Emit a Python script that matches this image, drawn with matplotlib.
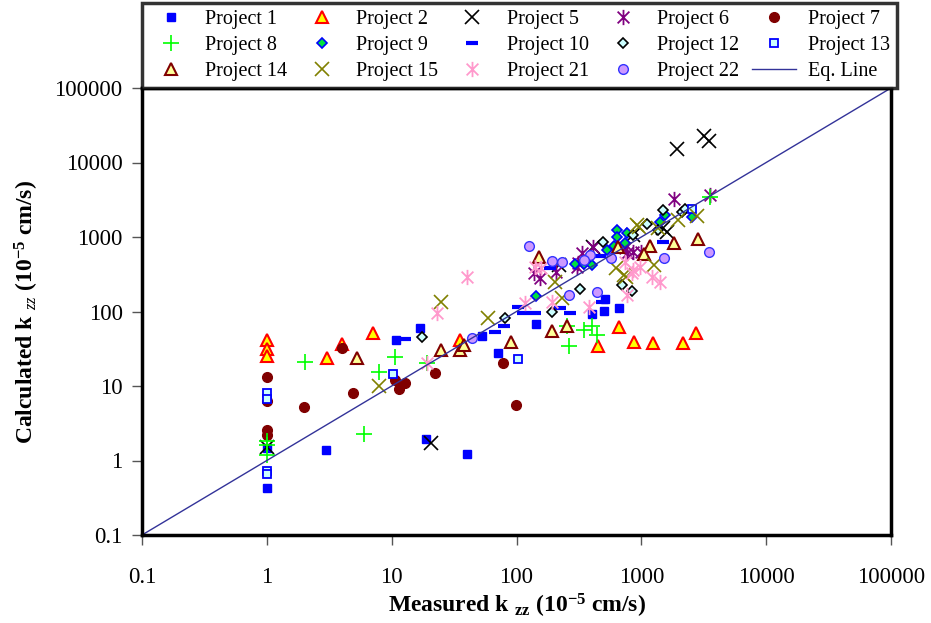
import matplotlib
matplotlib.use("Agg")
import matplotlib.pyplot as plt
from matplotlib.path import Path

plt.rcParams['font.family'] = ['Liberation Serif', 'DejaVu Serif']
plt.rcParams['mathtext.fontset'] = 'custom'
plt.rcParams['mathtext.rm'] = 'Liberation Serif'
plt.rcParams['mathtext.it'] = 'Liberation Serif:italic'
plt.rcParams['mathtext.bf'] = 'Liberation Serif:bold'

# Measured / calculated vertical permeability, units of 1e-5 cm/s
p1_x = [1, 1, 3.0, 16.9, 10.8, 52.7, 142, 71.6, 18.9, 40.5, 403, 500, 515, 661]
p1_y = [0.43, 1.47, 1.4, 60, 41, 47, 67, 28, 1.95, 1.21, 92, 102, 146, 112]

p2_x = [1, 1, 1, 3.05, 4.0, 7.1, 35.3, 661, 453, 875, 1250, 2150, 2750]
p2_y = [41, 31, 25.3, 24, 37, 52, 41, 62.5, 34, 39, 37.4, 37.4, 52]

p5_x = [1, 20.6, 1940, 3190, 3510, 1500, 1600, 855, 221, 413]
p5_y = [1.53, 1.73, 15000, 22700, 19600, 1310, 1180, 1060, 421, 741]

p6_x = [1830, 3560, 855, 990, 741, 137, 155, 334, 409, 304, 765, 313, 208]
p6_y = [3200, 3660, 635, 635, 705, 326, 279, 604, 728, 399, 604, 444, 342]

p7_x = [1, 1, 1, 1, 2.0, 3.98, 4.93, 10.6, 11.5, 12.8, 22.3, 78.5, 99.4]
p7_y = [13.3, 6.2, 2.56, 2.2, 5.2, 32.7, 8.0, 12.1, 9.0, 10.9, 14.8, 20.6, 5.56]

p8_x = [1, 1, 1, 2.02, 6.0, 7.96, 10.6, 19.1, 261, 348, 401, 442, 253, 3560]
p8_y = [1.8, 1.6, 1.2, 21.2, 2.27, 15.6, 24.7, 20.2, 34.4, 56.5, 63.8, 48.4, 63.8, 3480]

p9_x = [144, 295, 348, 401, 528, 637, 637, 765, 741, 1550, 1420, 2540, 600]
p9_y = [163, 434, 434, 421, 670, 1240, 1010, 1120, 822, 1970, 1610, 1870, 760]

p10_x = [12.8, 67.5, 79.6, 103.5, 113, 141, 223, 269, 482, 186, 468, 1500]
p10_y = [42.8, 53.5, 63.8, 114, 96, 96, 110, 96, 135, 380, 561, 865]

p12_x = [17.6, 81, 194, 324, 702, 849, 497, 864, 1120, 1500, 2110, 2220, 1350]
p12_y = [45, 82.6, 99.4, 199, 227, 190, 865, 1060, 1480, 2300, 2140, 2380, 1240]

p13_x = [1, 1, 1, 1, 10.3, 102, 2550]
p13_y = [8.1, 6.7, 0.73, 0.66, 14.4, 22.8, 2380]

p14_x = [5.25, 24.9, 35, 38, 90.6, 194, 256, 152, 649, 1180, 1050, 1830, 2820]
p14_y = [24, 30, 30, 35, 39.4, 55, 64, 545, 728, 757, 587, 822, 940]

p15_x = [7.96, 24.9, 59.6, 204, 231, 628, 755, 920, 728, 966, 1270, 1370, 1950, 2790]
p15_y = [10.1, 135, 82.6, 251, 150, 380, 293, 1450, 309, 1370, 421, 1310, 1690, 1910]

p21_x = [40, 23, 19.1, 117, 192, 384, 157, 765, 864, 977, 1210, 1400, 741, 839, 140]
p21_y = [293, 95, 20.2, 129, 135, 116, 380, 166, 361, 399, 293, 251, 467, 326, 399]

p22_x = [43.9, 125, 192, 231, 265, 440, 389, 573, 1530, 3490, 348]
p22_y = [44.5, 757, 481, 457, 166, 184, 573, 518, 518, 635, 497]

eq_line = [0.1, 100000]

tick_vals = [0.1, 1, 10, 100, 1000, 10000, 100000]
tick_labels = ['0.1', '1', '10', '100', '1000', '10000', '100000']

# six-armed star: an X with a vertical bar
star6 = Path([(-1, -1), (1, 1), (-1, 1), (1, -1), (0, -1.3), (0, 1.3)],
             [Path.MOVETO, Path.LINETO, Path.MOVETO, Path.LINETO, Path.MOVETO, Path.LINETO])

fig = plt.figure(figsize=(9.31, 6.23), dpi=100)
ax = fig.add_axes([142 / 931, 1 - 535 / 623, (891 - 142) / 931, (535 - 88) / 623])

handles = {}

def scatter(key, x, y, label, **kw):
    h, = ax.plot(x, y, linestyle='none', label=label, **kw)
    handles[key] = h

scatter('p1', p1_x, p1_y, 'Project 1', marker='s', ms=6, mfc='#0000FF', mec='#0000FF', mew=1)
scatter('p2', p2_x, p2_y, 'Project 2', marker='^', ms=8, mfc='#FFFF00', mec='#FF0000', mew=1.5)
scatter('p5', p5_x, p5_y, 'Project 5', marker='x', ms=10, mec='#000000', mew=1.2)
scatter('p6', p6_x, p6_y, 'Project 6', marker=star6, ms=11, mfc='none', mec='#800080', mew=1.3)
scatter('p7', p7_x, p7_y, 'Project 7', marker='o', ms=7, mfc='#800000', mec='#800000')
scatter('p8', p8_x, p8_y, 'Project 8', marker='+', ms=12, mec='#00FF00', mew=1.2)
scatter('p9', p9_x, p9_y, 'Project 9', marker='D', ms=5.5, mfc='#00E040', mec='#0000FF', mew=1.2)
scatter('p10', p10_x, p10_y, 'Project 10', marker='_', ms=9, mec='#0000FF', mew=3)
scatter('p12', p12_x, p12_y, 'Project 12', marker='D', ms=5.5, mfc='#CCFFFF', mec='#000000', mew=1.2)
scatter('p13', p13_x, p13_y, 'Project 13', marker='s', ms=6, mfc='#CCFFFF', mec='#0000FF', mew=1.3)
scatter('p14', p14_x, p14_y, 'Project 14', marker='^', ms=8, mfc='#FFFF99', mec='#800000', mew=1.5)
scatter('p15', p15_x, p15_y, 'Project 15', marker='x', ms=10, mec='#808000', mew=1.2)
scatter('p21', p21_x, p21_y, 'Project 21', marker=star6, ms=11, mfc='none', mec='#FF99CC', mew=1.3)
scatter('p22', p22_x, p22_y, 'Project 22', marker='o', ms=7, mfc='#CC99FF', mec='#3333FF', mew=1)
handles['eq'], = ax.plot(eq_line, eq_line, color='#333399', lw=1, label='Eq. Line')

ax.set_xscale('log')
ax.set_yscale('log')
ax.set_xlim(0.1, 100000)
ax.set_ylim(0.1, 100000)
ax.set_xticks(tick_vals)
ax.set_xticklabels(tick_labels)
ax.set_yticks(tick_vals)
ax.set_yticklabels(tick_labels)
ax.minorticks_off()
ax.tick_params(axis='both', which='major', direction='out', length=7, width=1,
               labelsize=16.5, color='#555555')
ax.tick_params(axis='x', pad=16)
ax.tick_params(axis='y', pad=7)
for s in ax.spines.values():
    s.set_linewidth(2.5)
    s.set_color('black')

ax.set_xlabel(r'Measured k $_{\mathbf{zz}}$ (10$^{\mathbf{-5}}$ cm/s)',
              fontsize=17, fontweight='bold', labelpad=3)
ax.set_ylabel(r'Calculated k $_{\mathbf{\mathit{zz}}}$ (10$^{\mathbf{-5}}$ cm/s)',
              fontsize=17, fontweight='bold', labelpad=10)

order = ['p1', 'p8', 'p14', 'p2', 'p9', 'p15', 'p5', 'p10', 'p21',
         'p6', 'p12', 'p22', 'p7', 'p13', 'eq']
leg = fig.legend([handles[k] for k in order], [handles[k].get_label() for k in order],
                 ncol=5, loc='lower left', mode='expand',
                 bbox_to_anchor=(142 / 931, 1 - 88 / 623, (897 - 142) / 931, 86 / 623),
                 borderaxespad=0, frameon=True, fancybox=False, fontsize=14.5,
                 handlelength=2.2, handletextpad=0.6, labelspacing=0.35,
                 borderpad=0.35, columnspacing=1.0)
leg.get_frame().set_edgecolor('black')
leg.get_frame().set_linewidth(2.5)

fig.savefig('out.png', dpi=100)
